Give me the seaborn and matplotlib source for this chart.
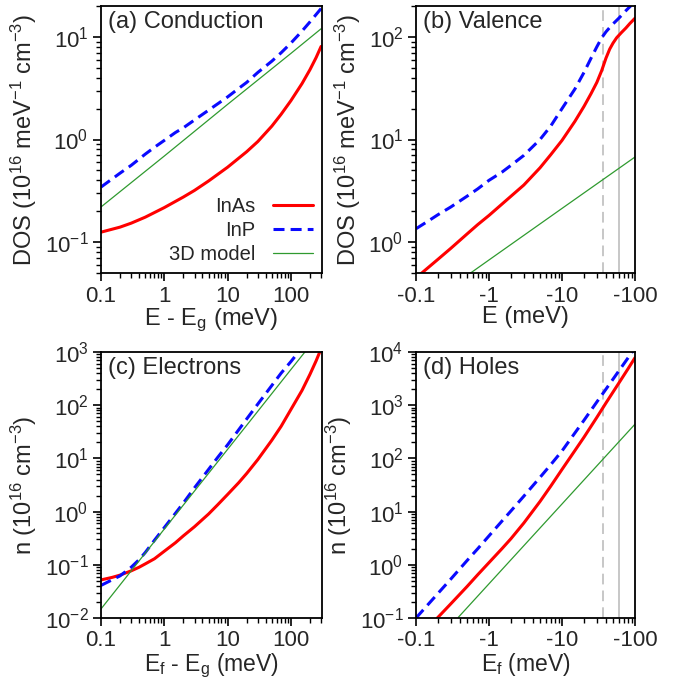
import numpy as np
import pandas as pd
import matplotlib
matplotlib.use("Agg")
import matplotlib.pyplot as plt
import seaborn as sns
from matplotlib.ticker import FuncFormatter, LogLocator, LogFormatterMathtext, NullFormatter

# ---------------- data ----------------
# (a) Conduction DOS
E_a_inas = [0.1, 0.2, 0.3, 0.5, 1, 2, 3, 5, 10, 20, 30, 50, 70, 100, 150, 200, 250, 300]
inas_a = [0.125, 0.14, 0.153, 0.175, 0.217, 0.275, 0.319, 0.394, 0.537, 0.76, 0.955,
          1.35, 1.76, 2.39, 3.51, 4.79, 6.28, 8.07]
E_a_inp = [0.1, 0.2, 0.3, 0.5, 0.7, 1, 1.5, 2, 3, 5, 7, 10, 15, 20, 30, 50, 70, 100,
           150, 200, 300]
inp_a = [0.344, 0.47, 0.56, 0.72, 0.84, 0.98, 1.17, 1.3, 1.55, 1.93, 2.23, 2.6, 3.15,
         3.6, 4.5, 5.8, 7.0, 8.7, 11.4, 14.0, 18.9]
E_a_model = [0.1, 1, 10, 100, 300]
model_a = [0.22, 0.69, 2.2, 6.9, 12.0]

# (b) Valence DOS (|E|)
E_b_inas = [0.1, 0.12, 0.2, 0.3, 0.5, 0.7, 1, 2, 3, 5, 7, 10, 15, 20, 25, 30, 35, 40,
            45, 50, 56, 65, 75, 85, 100]
inas_b = [0.45, 0.5, 0.68, 0.87, 1.2, 1.48, 1.82, 2.8, 3.6, 5.3, 7.1, 9.8, 15, 21, 28,
          36, 47, 62, 76, 87, 98, 110, 122, 135, 152]
E_b_inp = [0.1, 0.15, 0.2, 0.3, 0.5, 0.7, 1, 1.5, 2, 3, 5, 7, 10, 15, 20, 25, 30, 35,
           40, 48, 60, 75, 90, 100]
inp_b = [1.35, 1.62, 1.85, 2.2, 2.8, 3.3, 4.0, 4.8, 5.6, 7.0, 10, 13.5, 20, 31, 45, 62,
         80, 98, 112, 130, 152, 180, 205, 220]
E_b_model = [0.1, 1, 10, 100]
model_b = [0.21, 0.67, 2.13, 6.75]

# (c) Electrons
E_c_inas = [0.1, 0.15, 0.2, 0.3, 0.4, 0.5, 0.7, 1, 1.5, 2, 3, 5, 7, 10, 15, 20, 30, 50,
            70, 100, 150, 200, 250, 300]
inas_c = [0.052, 0.058, 0.064, 0.077, 0.09, 0.104, 0.13, 0.18, 0.26, 0.35, 0.52, 0.9,
          1.35, 2.1, 3.5, 5.2, 9.5, 22, 40, 83, 190, 380, 680, 1150]
E_c_inp = [0.1, 0.2, 0.3, 0.4, 0.5, 0.7, 1, 1.5, 2, 3, 5, 7, 10, 20, 30, 50, 70, 100,
           132, 150]
inp_c = [0.041, 0.062, 0.09, 0.125, 0.17, 0.29, 0.5, 0.93, 1.45, 2.8, 6.2, 10.5, 18, 55,
         105, 235, 400, 660, 1000, 1220]
E_c_model = [0.1, 1, 10, 100, 172, 200]
model_c = [0.0148, 0.47, 14.8, 468, 1050, 1320]

# (d) Holes (|Ef|)
E_d_inas = [0.196, 0.3, 0.5, 0.7, 1, 1.5, 2, 3, 5, 7, 10, 15, 20, 30, 40, 60, 80, 100]
inas_d = [0.1, 0.185, 0.39, 0.65, 1.1, 2.0, 3.1, 6.1, 15.5, 30, 62, 140, 250, 590, 1100,
          2600, 4800, 7800]
E_d_inp = [0.1, 0.2, 0.3, 0.5, 0.7, 1, 1.5, 2, 3, 5, 7, 10, 15, 20, 30, 40, 60, 80, 90,
           100]
inp_d = [0.1, 0.29, 0.54, 1.2, 2.0, 3.5, 6.6, 10.3, 19.5, 44, 76, 138, 300, 520, 1150,
         2000, 4400, 7700, 9700, 12000]
E_d_model = [0.38, 1, 10, 100]
model_d = [0.103, 0.44, 13.9, 440]

# reference energies (vertical grey lines) in panels (b) and (d)
vline_dashed = 36
vline_solid = 60

series_labels = ["InAs", "InP", "3D model"]
x_ticks = [0.1, 1, 10, 100]

# ---------------- style ----------------
sns.set_theme(style="ticks")
plt.rcParams["font.family"] = ["Liberation Sans", "DejaVu Sans"]
plt.rcParams["mathtext.fontset"] = "custom"
plt.rcParams["mathtext.rm"] = "Liberation Sans"
plt.rcParams["mathtext.it"] = "Liberation Sans:italic"
plt.rcParams["mathtext.default"] = "regular"
plt.rcParams["axes.unicode_minus"] = False

RED = "#ff0000"
BLUE = "#0a0aff"
GREEN = "#2f9a2f"
GREY = "#b8b8b8"

TICK_FS = 16
LABEL_FS = 17
TITLE_FS = 17
LEG_FS = 14.5

fig = plt.figure(figsize=(6.74, 6.81), dpi=100)
W, H = 674, 681


def add_ax(l, t, r, b):
    return fig.add_axes([l / W, 1 - b / H, (r - l) / W, (b - t) / H])


ax_a = add_ax(101, 6, 322, 273)
ax_b = add_ax(416, 6, 635, 273)
ax_c = add_ax(101, 352, 322, 618)
ax_d = add_ax(416, 352, 635, 618)


def draw(ax, Ei, yi, Ep, yp, Em, ym):
    sns.lineplot(x=Ei, y=yi, ax=ax, color=RED, linewidth=2.2, label=series_labels[0],
                 sort=False, estimator=None)
    sns.lineplot(x=Ep, y=yp, ax=ax, color=BLUE, linewidth=2.2, linestyle=(0, (3.6, 2.0)),
                 label=series_labels[1], sort=False, estimator=None)
    sns.lineplot(x=Em, y=ym, ax=ax, color=GREEN, linewidth=0.9, label=series_labels[2],
                 sort=False, estimator=None)


draw(ax_a, E_a_inas, inas_a, E_a_inp, inp_a, E_a_model, model_a)
draw(ax_b, E_b_inas, inas_b, E_b_inp, inp_b, E_b_model, model_b)
draw(ax_c, E_c_inas, inas_c, E_c_inp, inp_c, E_c_model, model_c)
draw(ax_d, E_d_inas, inas_d, E_d_inp, inp_d, E_d_model, model_d)

for ax in (ax_b, ax_d):
    ax.axvline(vline_dashed, color=GREY, lw=1.1, linestyle=(0, (7, 4)), zorder=0)
    ax.axvline(vline_solid, color=GREY, lw=1.1, zorder=0)

limits = {
    ax_a: ((0.1, 310), (0.05, 20)),
    ax_b: ((0.1, 100), (0.5, 200)),
    ax_c: ((0.1, 310), (0.01, 1000)),
    ax_d: ((0.1, 100), (0.1, 10000)),
}

pos_fmt = FuncFormatter(lambda v, p: f"{v:g}")
neg_fmt = FuncFormatter(lambda v, p: f"-{v:g}")

for ax, (xl, yl) in limits.items():
    ax.set_xscale("log")
    ax.set_yscale("log")
    ax.set_xlim(*xl)
    ax.set_ylim(*yl)
    ax.xaxis.set_major_locator(plt.FixedLocator(x_ticks))
    ax.xaxis.set_minor_locator(LogLocator(base=10, subs=np.arange(2, 10), numticks=20))
    ax.xaxis.set_minor_formatter(NullFormatter())
    ax.xaxis.set_major_formatter(neg_fmt if ax in (ax_b, ax_d) else pos_fmt)
    ax.yaxis.set_major_locator(LogLocator(base=10, numticks=20))
    ax.yaxis.set_minor_locator(LogLocator(base=10, subs=np.arange(2, 10), numticks=20))
    ax.yaxis.set_major_formatter(LogFormatterMathtext())
    ax.yaxis.set_minor_formatter(NullFormatter())
    ax.tick_params(which="major", direction="out", length=6, width=1.2,
                   labelsize=TICK_FS, top=False, right=False, pad=3, color="black")
    ax.tick_params(which="minor", direction="out", length=3.5, width=1.0,
                   top=False, right=False, color="black")
    for s in ax.spines.values():
        s.set_linewidth(1.3)
        s.set_color("black")
    if ax is not ax_a:
        lg = ax.get_legend()
        if lg is not None:
            lg.remove()

ax_a.legend(loc="lower right", bbox_to_anchor=(1.0, 0.0), frameon=False, fontsize=LEG_FS,
            markerfirst=False, handlelength=2.0, handletextpad=0.85, labelspacing=0.25,
            borderaxespad=0.1, borderpad=0.35)

ax_a.set_xlabel("E - E$_g$ (meV)", fontsize=LABEL_FS, labelpad=0)
ax_b.set_xlabel("E (meV)", fontsize=LABEL_FS, labelpad=0)
ax_c.set_xlabel("E$_f$ - E$_g$ (meV)", fontsize=16.5, labelpad=0)
ax_d.set_xlabel("E$_f$ (meV)", fontsize=16.5, labelpad=0)
dos_label = "DOS (10$^{16}$ meV$^{-1}$ cm$^{-3}$)"
n_label = "n (10$^{16}$ cm$^{-3}$)"
ax_a.set_ylabel(dos_label, fontsize=LABEL_FS, labelpad=4)
ax_b.set_ylabel(dos_label, fontsize=LABEL_FS, labelpad=4)
ax_c.set_ylabel(n_label, fontsize=LABEL_FS, labelpad=4)
ax_d.set_ylabel(n_label, fontsize=LABEL_FS, labelpad=4)

titles = {ax_a: "(a) Conduction", ax_b: "(b) Valence", ax_c: "(c) Electrons", ax_d: "(d) Holes"}
for ax, t in titles.items():
    ax.text(0.03, 0.982, t, transform=ax.transAxes, ha="left", va="top", fontsize=TITLE_FS)

fig.savefig("out.png", dpi=100)
